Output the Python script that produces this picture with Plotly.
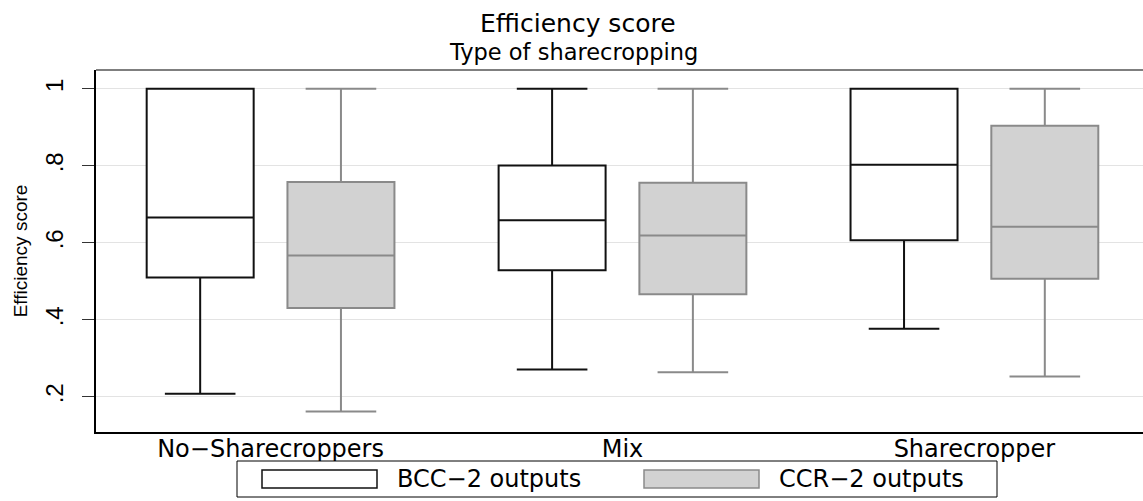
import plotly.graph_objects as go

# ---- data ----
categories = ["No\u2212Sharecroppers", "Mix", "Sharecropper"]
cat_index = [0, 1, 2]

bcc_lower = [0.208, 0.271, 0.377]
bcc_q1 = [0.510, 0.529, 0.607]
bcc_median = [0.666, 0.659, 0.803]
bcc_q3 = [1.000, 0.801, 1.000]
bcc_upper = [1.000, 1.000, 1.000]

ccr_lower = [0.162, 0.264, 0.253]
ccr_q1 = [0.431, 0.467, 0.507]
ccr_median = [0.567, 0.619, 0.642]
ccr_q3 = [0.758, 0.756, 0.904]
ccr_upper = [1.000, 1.000, 1.000]

y_ticks = [0.2, 0.4, 0.6, 0.8, 1.0]
y_ticktext = [".2", ".4", ".6", ".8", "1"]

series_names = ["BCC\u22122 outputs", "CCR\u22122 outputs"]

W, H = 1143, 501
L, R, T, B = 96, 0, 70, 69
PW, PH = W - L - R, H - T - B

WIDE = "DejaVu Sans, Verdana, sans-serif"
STD = "Liberation Sans, Arial, sans-serif"


def px(xp):
    return (xp - L) / PW


def py(yp):
    return (H - B - yp) / PH


fig = go.Figure()
fig.add_trace(go.Box(
    x=cat_index, q1=bcc_q1, median=bcc_median, q3=bcc_q3,
    lowerfence=bcc_lower, upperfence=bcc_upper,
    name=series_names[0], fillcolor="white",
    line=dict(color="#111111", width=2), whiskerwidth=0.66,
    boxpoints=False, showlegend=False, hoverinfo="skip"))
fig.add_trace(go.Box(
    x=cat_index, q1=ccr_q1, median=ccr_median, q3=ccr_q3,
    lowerfence=ccr_lower, upperfence=ccr_upper,
    name=series_names[1], fillcolor="#d2d2d2",
    line=dict(color="#8a8a8a", width=2), whiskerwidth=0.66,
    boxpoints=False, showlegend=False, hoverinfo="skip"))

fig.update_layout(
    width=W, height=H,
    margin=dict(l=L, r=R, t=T, b=B, pad=0, autoexpand=False),
    paper_bgcolor="white", plot_bgcolor="white",
    boxmode="group", boxgap=0.2, boxgroupgap=0.24,
    font=dict(family=WIDE, color="black", size=23),
    showlegend=False,
)

fig.update_xaxes(
    range=[-0.496, 2.479], tickvals=cat_index, ticktext=categories,
    tickangle=0, automargin=False, ticklabelstandoff=-6,
    showgrid=False, zeroline=False, showline=True, linecolor="black",
    linewidth=1.5, ticks="", tickfont=dict(family=WIDE, size=24), mirror=False,
)
fig.update_yaxes(
    range=[0.109, 1.049], tickvals=y_ticks, ticktext=y_ticktext,
    tickangle=-90, ticks="outside", ticklen=12, tickwidth=1.2, tickcolor="#333333",
    ticklabelstandoff=9, automargin=False,
    tickfont=dict(family=STD, size=24),
    showgrid=True, gridcolor="#e3e3e3", gridwidth=1.3, zeroline=False,
    showline=True, linecolor="black", linewidth=2,
    title=dict(text="Efficiency score", standoff=9,
               font=dict(family=STD, size=19)),
)

shapes = []
# top frame line
shapes.append(dict(type="line", xref="paper", yref="paper", x0=0, x1=1, y0=1, y1=1,
                   line=dict(color="#555555", width=1.5)))
# legend frame and keys
shapes.append(dict(type="rect", xref="paper", yref="paper",
                   x0=px(237), x1=px(997), y0=py(461), y1=py(497),
                   line=dict(color="black", width=1), fillcolor="white"))
shapes.append(dict(type="rect", xref="paper", yref="paper",
                   x0=px(262), x1=px(377), y0=py(470), y1=py(488),
                   line=dict(color="#111111", width=1.5), fillcolor="white"))
shapes.append(dict(type="rect", xref="paper", yref="paper",
                   x0=px(644), x1=px(759), y0=py(470), y1=py(488),
                   line=dict(color="#8a8a8a", width=1.5), fillcolor="#d2d2d2"))
fig.update_layout(shapes=shapes)

annotations = [
    dict(text="Efficiency score", xref="paper", yref="paper",
         x=px(578), y=py(23), xanchor="center", yanchor="middle",
         showarrow=False, font=dict(family=WIDE, size=25)),
    dict(text="Type of sharecropping", xref="paper", yref="paper",
         x=px(573), y=py(52), xanchor="center", yanchor="middle",
         showarrow=False, font=dict(family=WIDE, size=22.5)),
    dict(text=series_names[0], xref="paper", yref="paper",
         x=px(395), y=py(479), xanchor="left", yanchor="middle",
         showarrow=False, font=dict(family=WIDE, size=24)),
    dict(text=series_names[1], xref="paper", yref="paper",
         x=px(777), y=py(479), xanchor="left", yanchor="middle",
         showarrow=False, font=dict(family=WIDE, size=24)),
]
fig.update_layout(annotations=annotations)

fig.write_html("out.html")
